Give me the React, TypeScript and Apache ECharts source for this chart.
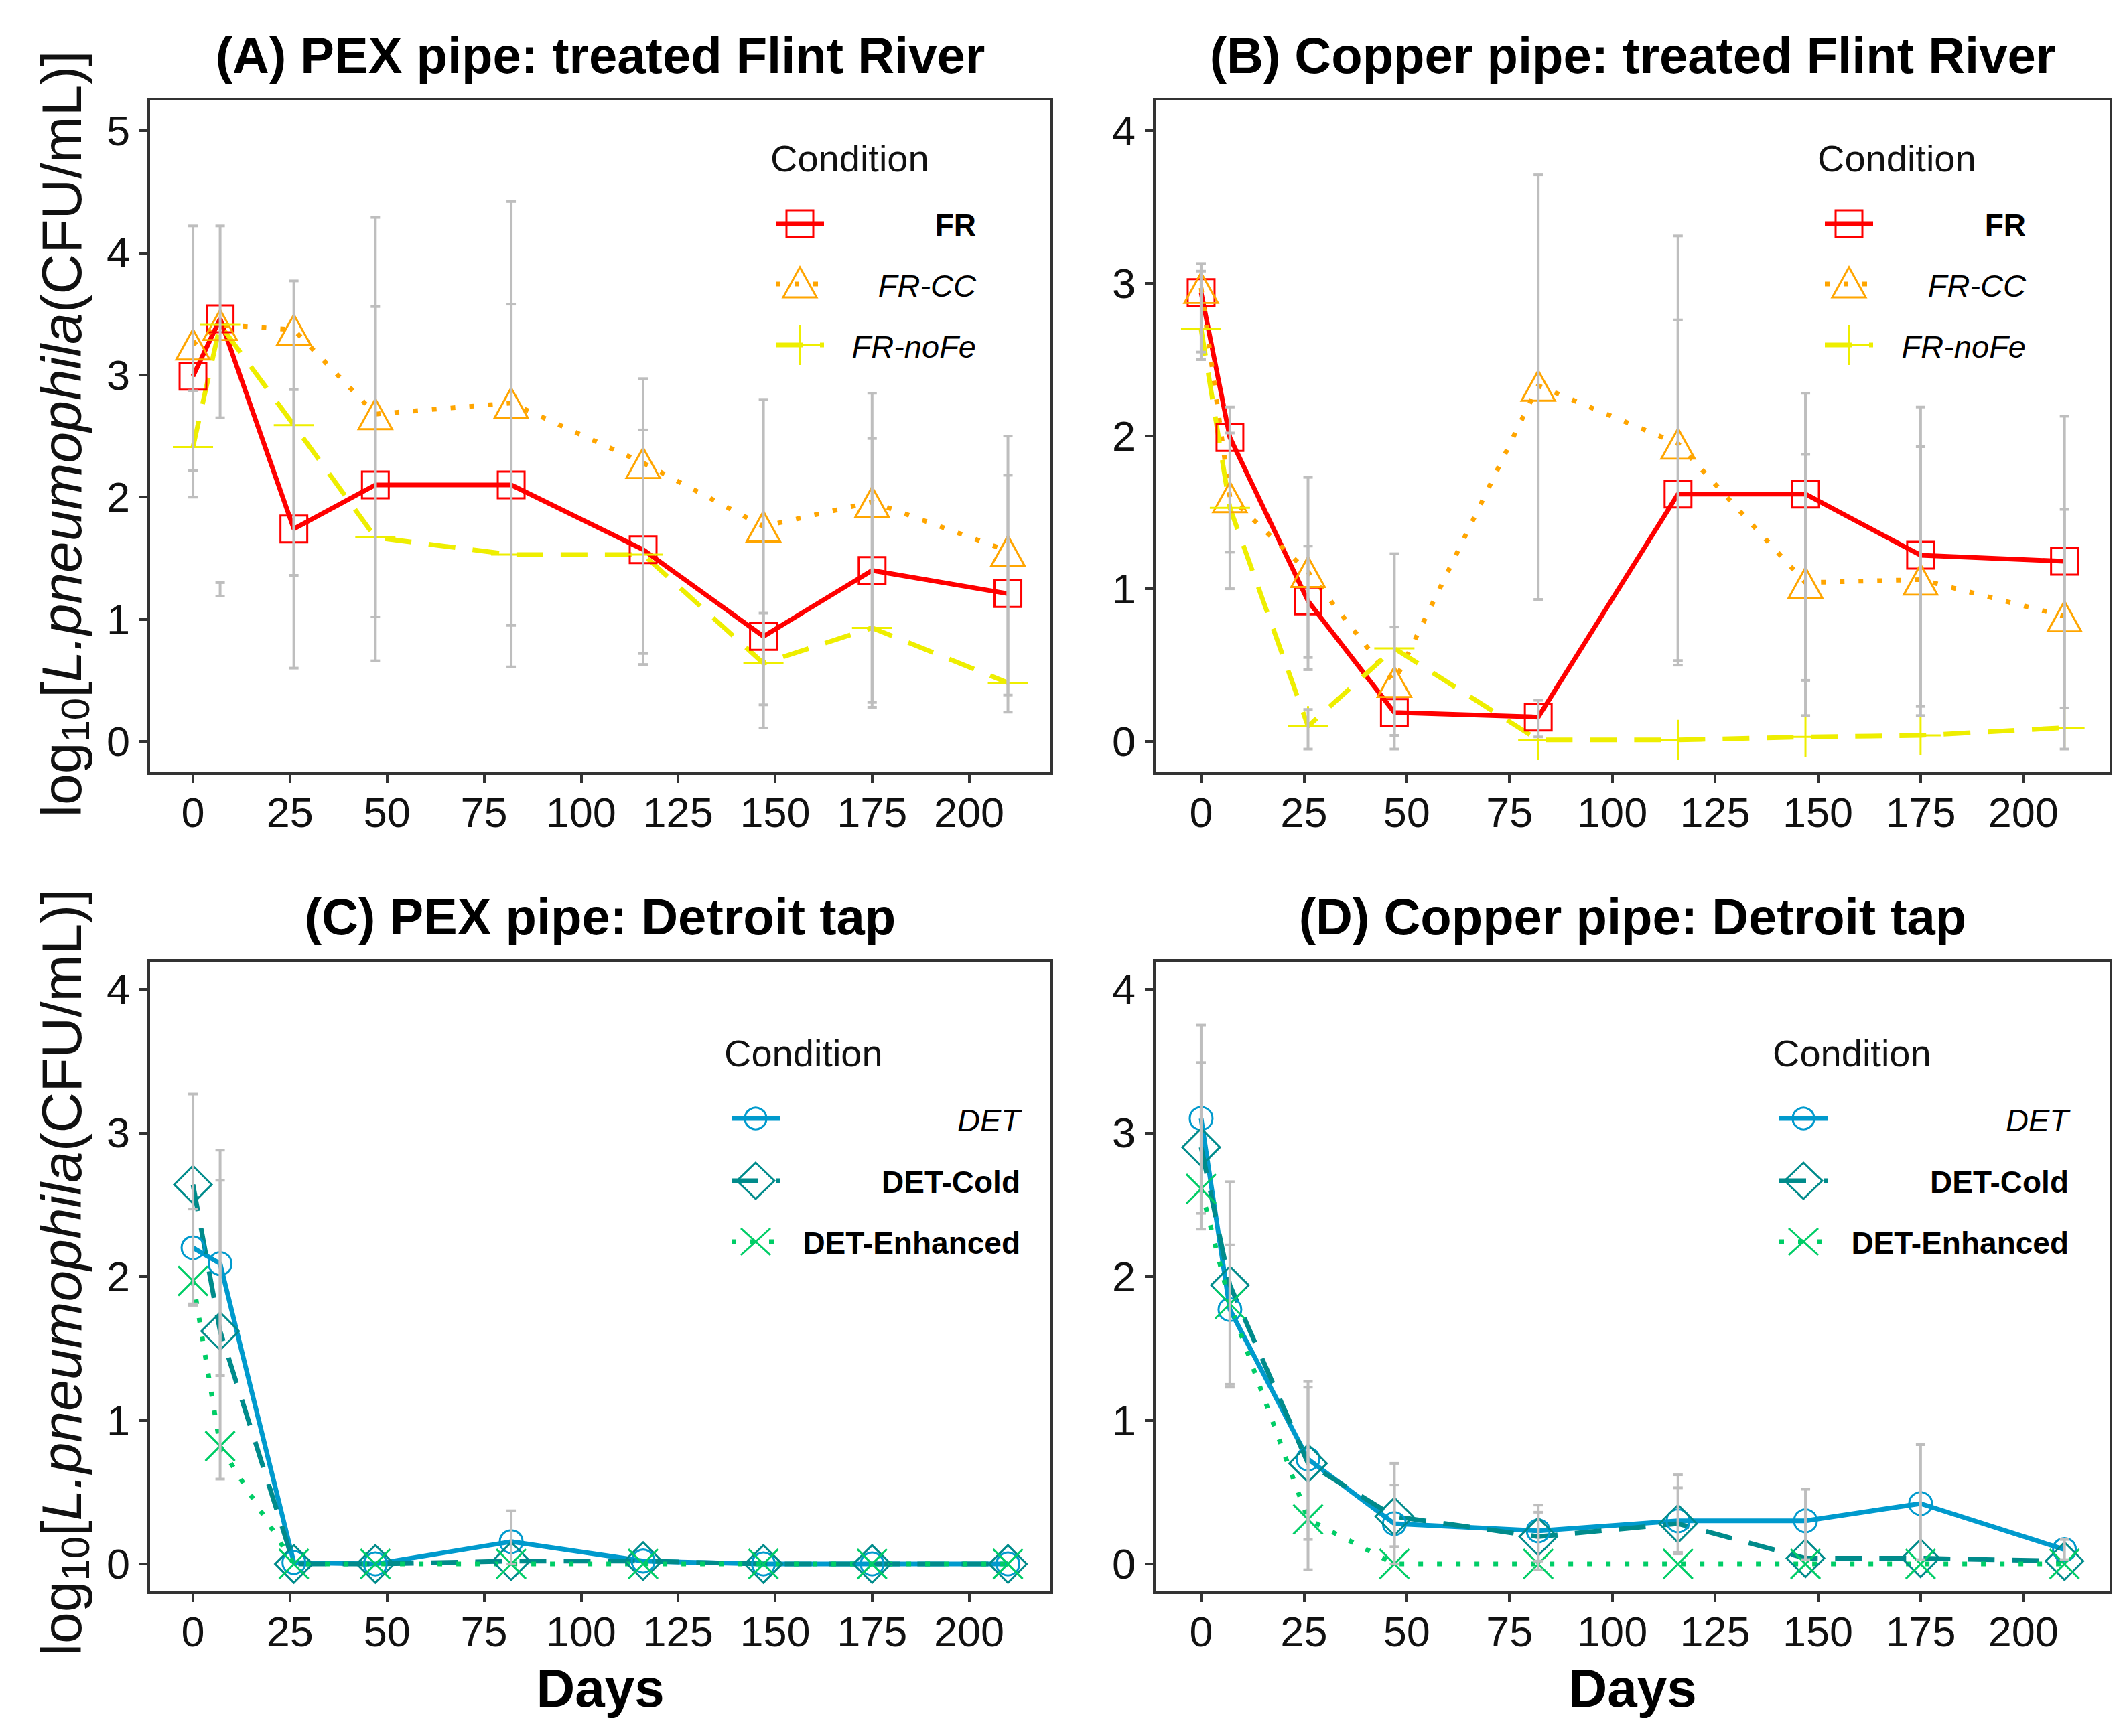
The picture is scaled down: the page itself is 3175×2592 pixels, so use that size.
import React, { useEffect, useRef } from "react";
import * as echarts from "echarts";

// ---------------- data ----------------
const DAYS = [0, 7, 26, 47, 82, 116, 147, 175, 210];
const X_TICKS = [0, 25, 50, 75, 100, 125, 150, 175, 200];
const Y_TICKS_A = [0, 1, 2, 3, 4, 5];
const Y_TICKS_BCD = [0, 1, 2, 3, 4];

// (A) PEX pipe: treated Flint River
const FR_A = [2.99, 3.46, 1.74, 2.1, 2.1, 1.57, 0.86, 1.4, 1.21];
const FRCC_A = [3.25, 3.41, 3.37, 2.68, 2.77, 2.28, 1.76, 1.96, 1.56];
const FRNOFE_A = [2.41, 3.41, 2.59, 1.67, 1.53, 1.53, 0.64, 0.93, 0.48];
const ERR_A = [
  [0, 2.0, 4.22], [0, 2.22, 2.87], [7, 2.65, 4.22], [7, 1.19, 1.3],
  [26, 0.6, 3.77], [26, 1.36, 2.88], [47, 0.66, 4.29], [47, 1.02, 3.56],
  [82, 0.61, 4.42], [82, 0.95, 3.58], [116, 0.63, 2.97], [116, 0.72, 2.55],
  [147, 0.11, 2.8], [147, 0.3, 1.05], [175, 0.28, 2.85], [175, 0.32, 2.48],
  [210, 0.24, 2.5], [210, 0.38, 2.18],
];

// (B) Copper pipe: treated Flint River
const FR_B = [2.94, 1.99, 0.92, 0.19, 0.16, 1.62, 1.62, 1.22, 1.18];
const FRCC_B = [2.97, 1.6, 1.11, 0.39, 2.33, 1.95, 1.04, 1.06, 0.82];
const FRNOFE_B = [2.7, 1.53, 0.1, 0.61, 0.01, 0.01, 0.03, 0.04, 0.09];
const ERR_B = [
  [0, 2.5, 3.13], [0, 2.55, 3.08], [7, 1.0, 2.19], [7, 1.24, 2.02],
  [26, 0.47, 1.73], [26, 0.55, 1.28], [26, -0.05, 0.21], [47, -0.05, 1.23],
  [47, 0.04, 0.75], [82, 0.93, 3.71], [82, 0.03, 0.27], [116, 0.5, 3.31],
  [116, 0.53, 2.76], [147, 0.17, 2.28], [147, 0.4, 1.88], [175, 0.17, 2.19],
  [175, 0.23, 1.93], [210, -0.05, 2.13], [210, 0.22, 1.52],
];

// (C) PEX pipe: Detroit tap
const DET_C = [2.2, 2.09, 0.01, 0.0, 0.155, 0.02, 0.0, 0.0, 0.0];
const COLD_C = [2.64, 1.62, 0.0, 0.0, 0.02, 0.02, 0.0, 0.0, 0.0];
const ENH_C = [1.97, 0.82, 0.0, 0.0, 0.0, 0.0, 0.0, 0.0, 0.0];
const ERR_C = [
  [0, 1.81, 3.27], [0, 1.8, 2.47], [7, 0.59, 2.88], [7, 1.31, 2.67], [82, 0.0, 0.37],
];

// (D) Copper pipe: Detroit tap
const DET_D = [3.1, 1.77, 0.73, 0.28, 0.23, 0.3, 0.3, 0.42, 0.1];
const COLD_D = [2.9, 1.94, 0.7, 0.33, 0.19, 0.28, 0.04, 0.04, 0.02];
const ENH_D = [2.61, 1.81, 0.31, 0.0, 0.0, 0.0, 0.0, 0.0, 0.0];
const ERR_D = [
  [0, 2.33, 3.75], [0, 2.44, 3.49], [7, 1.23, 2.66], [7, 1.25, 2.22],
  [26, -0.04, 1.27], [26, 0.17, 1.23], [47, 0.0, 0.7], [47, 0.12, 0.55],
  [82, -0.04, 0.41], [82, 0.02, 0.36], [116, 0.07, 0.62], [116, 0.08, 0.53],
  [147, 0.03, 0.52], [175, 0.03, 0.83], [210, 0.03, 0.17],
];

// ---------------- styles ----------------
const FONT = "'Liberation Sans', Arial, Helvetica, sans-serif";
const DASHED = [40, 26];
const DOTTED = [7, 21];
const PLUS_PATH = "path://M0,5L10,5M5,0L5,10";
const X_PATH = "path://M0,0L10,10M10,0L0,10";

const ST = {
  FR: { color: "#FF0000", symbol: "rect", size: 40, dash: "solid", kind: "rect", label: "FR", fw: "bold", fs: "normal" },
  FRCC: { color: "#FFA500", symbol: "triangle", size: [50, 45], dash: DOTTED, kind: "tri", label: "FR-CC", fw: "normal", fs: "italic" },
  FRNOFE: { color: "#EEEE00", symbol: PLUS_PATH, size: 60, dash: DASHED, kind: "plus", label: "FR-noFe", fw: "normal", fs: "italic" },
  DET: { color: "#009ACD", symbol: "circle", size: 34, dash: "solid", kind: "circle", label: "DET", fw: "normal", fs: "italic" },
  COLD: { color: "#008B8B", symbol: "diamond", size: 56, dash: DASHED, kind: "diamond", label: "DET-Cold", fw: "bold", fs: "normal" },
  ENH: { color: "#00CD66", symbol: X_PATH, size: 44, dash: DOTTED, kind: "x", label: "DET-Enhanced", fw: "bold", fs: "normal" },
};

const PANELS = [
  {
    title: "(A) PEX pipe: treated Flint River",
    grid: { left: 222, top: 148, width: 1348, height: 1007 },
    y: [-0.263, 5.258], yTicks: Y_TICKS_A,
    series: [["FR", FR_A], ["FRCC", FRCC_A], ["FRNOFE", FRNOFE_A]],
    err: ERR_A,
    legend: { condX: 1150, condY: 236, keyX: 1194, rowY: [334, 424, 515], right: 1457 },
  },
  {
    title: "(B) Copper pipe: treated Flint River",
    grid: { left: 1723, top: 148, width: 1428, height: 1007 },
    y: [-0.21, 4.206], yTicks: Y_TICKS_BCD,
    series: [["FR", FR_B], ["FRCC", FRCC_B], ["FRNOFE", FRNOFE_B]],
    err: ERR_B,
    legend: { condX: 2713, condY: 236, keyX: 2760, rowY: [334, 424, 515], right: 3024 },
  },
  {
    title: "(C) PEX pipe: Detroit tap",
    grid: { left: 222, top: 1434, width: 1348, height: 944 },
    y: [-0.2, 4.2], yTicks: Y_TICKS_BCD,
    series: [["DET", DET_C], ["COLD", COLD_C], ["ENH", ENH_C]],
    err: ERR_C,
    legend: { condX: 1081, condY: 1572, keyX: 1128, rowY: [1670, 1763, 1854], right: 1523 },
  },
  {
    title: "(D) Copper pipe: Detroit tap",
    grid: { left: 1723, top: 1434, width: 1428, height: 944 },
    y: [-0.2, 4.2], yTicks: Y_TICKS_BCD,
    series: [["DET", DET_D], ["COLD", COLD_D], ["ENH", ENH_D]],
    err: ERR_D,
    legend: { condX: 2646, condY: 1572, keyX: 2692, rowY: [1670, 1763, 1854], right: 3088 },
  },
];

const X_MIN = -11.4;
const X_MAX = 221.3;

function legendGlyph(kind: string, kx: number, ry: number, c: string): any[] {
  const s = { fill: "none", stroke: c, lineWidth: 3 };
  switch (kind) {
    case "rect":
      return [{ type: "rect", shape: { x: kx - 20, y: ry - 20, width: 40, height: 40 }, style: s }];
    case "tri":
      return [{ type: "polygon", shape: { points: [[kx, ry - 25], [kx + 25, ry + 20], [kx - 25, ry + 20]] }, style: s }];
    case "plus":
      return [
        { type: "line", shape: { x1: kx - 30, y1: ry, x2: kx + 30, y2: ry }, style: { stroke: c, lineWidth: 4 } },
        { type: "line", shape: { x1: kx, y1: ry - 30, x2: kx, y2: ry + 30 }, style: { stroke: c, lineWidth: 4 } },
      ];
    case "circle":
      return [{ type: "circle", shape: { cx: kx, cy: ry, r: 16 }, style: s }];
    case "diamond":
      return [{ type: "polygon", shape: { points: [[kx, ry - 27], [kx + 28, ry], [kx, ry + 27], [kx - 28, ry]] }, style: s }];
    default:
      return [
        { type: "line", shape: { x1: kx - 22, y1: ry - 20, x2: kx + 22, y2: ry + 20 }, style: { stroke: c, lineWidth: 3 } },
        { type: "line", shape: { x1: kx + 22, y1: ry - 20, x2: kx - 22, y2: ry + 20 }, style: { stroke: c, lineWidth: 3 } },
      ];
  }
}

function buildOption() {
  const grids: any[] = [];
  const xAxes: any[] = [];
  const yAxes: any[] = [];
  const series: any[] = [];
  const graphics: any[] = [];

  PANELS.forEach((p, i) => {
    grids.push({ ...p.grid, show: true, borderColor: "#333333", borderWidth: 4, backgroundColor: "#ffffff", containLabel: false });
    xAxes.push({
      type: "value", gridIndex: i, min: X_MIN, max: X_MAX,
      splitLine: { show: false },
      axisLine: { show: false, onZero: false },
      axisTick: { show: true, length: 14, lineStyle: { color: "#333333", width: 4 }, customValues: X_TICKS },
      axisLabel: { customValues: X_TICKS, fontSize: 63, color: "#111111", margin: 26, fontFamily: FONT },
    });
    yAxes.push({
      type: "value", gridIndex: i, min: p.y[0], max: p.y[1],
      splitLine: { show: false },
      axisLine: { show: false, onZero: false },
      axisTick: { show: true, length: 14, lineStyle: { color: "#333333", width: 4 }, customValues: p.yTicks },
      axisLabel: { customValues: p.yTicks, fontSize: 63, color: "#111111", margin: 28, fontFamily: FONT },
    });

    p.series.forEach(([key, vals]: any) => {
      const st = (ST as any)[key];
      series.push({
        type: "line", name: st.label, xAxisIndex: i, yAxisIndex: i,
        data: DAYS.map((d, k) => [d, vals[k]]),
        symbol: st.symbol, symbolSize: st.size, showSymbol: true,
        lineStyle: { color: st.color, width: 7, type: st.dash },
        itemStyle: { color: "rgba(0,0,0,0)", borderColor: st.color, borderWidth: 3 },
        emphasis: { disabled: true }, silent: true, z: 2,
      });
    });

    series.push({
      type: "custom", xAxisIndex: i, yAxisIndex: i, z: 3, silent: true,
      data: p.err,
      encode: { x: 0, y: [1, 2] },
      renderItem: (_params: any, api: any) => {
        const x = api.value(0);
        const lo = api.coord([x, api.value(1)]);
        const hi = api.coord([x, api.value(2)]);
        const w = 7;
        const st = { stroke: "#BEBEBE", lineWidth: 4 };
        return {
          type: "group",
          children: [
            { type: "line", shape: { x1: lo[0], y1: lo[1], x2: hi[0], y2: hi[1] }, style: st },
            { type: "line", shape: { x1: lo[0] - w, y1: lo[1], x2: lo[0] + w, y2: lo[1] }, style: st },
            { type: "line", shape: { x1: hi[0] - w, y1: hi[1], x2: hi[0] + w, y2: hi[1] }, style: st },
          ],
        };
      },
    });

    // title
    const cx = p.grid.left + p.grid.width / 2;
    graphics.push({
      type: "text", x: cx, y: p.grid.top - 66, z: 10,
      style: { text: p.title, fill: "#000", font: `bold 76px ${FONT}`, align: "center", verticalAlign: "middle", textAlign: "center", textVerticalAlign: "middle" },
    });

    // legend
    const L = p.legend;
    graphics.push({
      type: "text", x: L.condX, y: L.condY, z: 10,
      style: { text: "Condition", fill: "#111", font: `56px ${FONT}`, align: "left", verticalAlign: "middle", textAlign: "left", textVerticalAlign: "middle" },
    });
    p.series.forEach(([key]: any, r: number) => {
      const st = (ST as any)[key];
      const ry = L.rowY[r];
      graphics.push({
        type: "line", z: 10,
        shape: { x1: L.keyX - 36, y1: ry, x2: L.keyX + 36, y2: ry },
        style: { stroke: st.color, lineWidth: 7, lineDash: st.dash === "solid" ? null : st.dash },
      });
      legendGlyph(st.kind, L.keyX, ry, st.color).forEach((g) => graphics.push({ ...g, z: 11 }));
      graphics.push({
        type: "text", x: L.right, y: ry + 2, z: 10,
        style: {
          text: st.label, fill: "#000",
          font: `${st.fs} ${st.fw} ${st.fw === "bold" ? 46 : 47}px ${FONT}`,
          align: "right", verticalAlign: "middle", textAlign: "right", textVerticalAlign: "middle",
        },
      });
    });
  });

  // y-axis titles
  const yTitle = "{a|log}{s|10}{a|[}{i|L.pneumophila}{a|(CFU/mL)]}";
  const rich = {
    a: { fontSize: 84, fontFamily: FONT, lineHeight: 100, fill: "#111", color: "#111" },
    i: { fontSize: 84, fontFamily: FONT, fontStyle: "italic", lineHeight: 100, fill: "#111", color: "#111" },
    s: { fontSize: 60, fontFamily: FONT, lineHeight: 60, verticalAlign: "bottom", fill: "#111", color: "#111" },
  };
  [648, 1900].forEach((yc) => {
    graphics.push({
      type: "text", x: 92, y: yc, rotation: Math.PI / 2, z: 10,
      style: { text: yTitle, rich, fill: "#111", align: "center", verticalAlign: "middle", textAlign: "center", textVerticalAlign: "middle" },
    });
  });

  // x-axis titles
  [896, 2437].forEach((xc) => {
    graphics.push({
      type: "text", x: xc, y: 2520, z: 10,
      style: { text: "Days", fill: "#000", font: `bold 80px ${FONT}`, align: "center", verticalAlign: "middle", textAlign: "center", textVerticalAlign: "middle" },
    });
  });

  return {
    animation: false,
    backgroundColor: "#ffffff",
    textStyle: { fontFamily: FONT },
    grid: grids,
    xAxis: xAxes,
    yAxis: yAxes,
    series,
    graphic: { elements: graphics },
  };
}

export default function App() {
  const ref = useRef<HTMLDivElement>(null);
  useEffect(() => {
    document.body.style.margin = "0";
    if (!ref.current) return;
    const chart = echarts.init(ref.current, undefined, { renderer: "svg" });
    chart.setOption(buildOption() as any);
    return () => chart.dispose();
  }, []);
  return <div ref={ref} style={{ width: 3175, height: 2592, background: "#fff" }} />;
}
